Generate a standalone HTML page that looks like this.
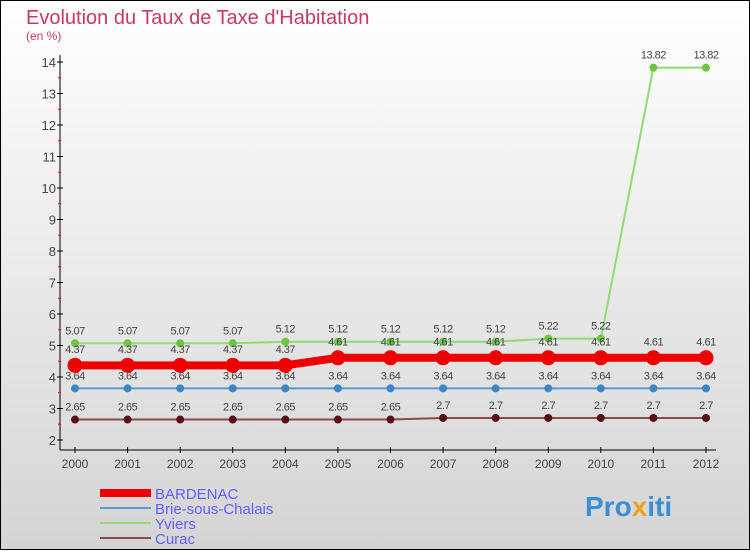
<!DOCTYPE html>
<html><head><meta charset="utf-8"><style>
html,body{margin:0;padding:0}
body{width:750px;height:550px;overflow:hidden;font-family:"Liberation Sans",sans-serif}
</style></head><body>
<svg id="c" width="750" height="550" xmlns="http://www.w3.org/2000/svg">
<defs><linearGradient id="bg" x1="0" y1="0" x2="0" y2="1"><stop offset="0" stop-color="#ffffff"/><stop offset="1" stop-color="#d4d4d4"/></linearGradient></defs>
<rect x="0.5" y="0.5" width="749" height="549" fill="url(#bg)" stroke="#000"/>
<text x="26" y="24" font-size="20" fill="#c8386a">Evolution du Taux de Taxe d'Habitation</text>
<text x="26" y="40" font-size="12" fill="#c8386a">(en %)</text>
<g id="axes"></g><g id="series"></g><g id="legend"></g>
<text x="585" y="516" font-size="28" font-weight="bold" fill="#3a8fd8">Pro<tspan fill="#f0a020">x</tspan>iti</text>
</svg>
<script>
const years=[2000,2001,2002,2003,2004,2005,2006,2007,2008,2009,2010,2011,2012];
const yTicks=[2,3,4,5,6,7,8,9,10,11,12,13,14];
const bardenac=[4.37,4.37,4.37,4.37,4.37,4.61,4.61,4.61,4.61,4.61,4.61,4.61,4.61];
const brie=[3.64,3.64,3.64,3.64,3.64,3.64,3.64,3.64,3.64,3.64,3.64,3.64,3.64];
const yviers=[5.07,5.07,5.07,5.07,5.12,5.12,5.12,5.12,5.12,5.22,5.22,13.82,13.82];
const curac=[2.65,2.65,2.65,2.65,2.65,2.65,2.65,2.7,2.7,2.7,2.7,2.7,2.7];
const NS='http://www.w3.org/2000/svg';
const X=i=>75+i*(706-75)/(years.length-1);
const Y=v=>440-(v-2)*31.5;
function mk(tag,attrs,parent,txt){const e=document.createElementNS(NS,tag);for(const k in attrs)e.setAttribute(k,attrs[k]);if(txt!==undefined)e.textContent=txt;parent.appendChild(e);return e;}
const ax=document.getElementById('axes');
let e=mk('line',{x1:60,y1:55,x2:60,y2:450,stroke:'#000','stroke-width':1},ax);


e=mk('line',{x1:60,y1:450,x2:716,y2:450,stroke:'#000','stroke-width':1},ax);


yTicks.forEach(t=>{
 mk('line',{x1:57,y1:Y(t),x2:63,y2:Y(t),stroke:'#000'},ax);
 if(t<14)mk('line',{x1:58,y1:Y(t+0.5),x2:61,y2:Y(t+0.5),stroke:'#f00'},ax);
 const l=mk('text',{x:56,y:Y(t)+5,'font-size':13,fill:'#444','text-anchor':'end'},ax,t);
 
 
});
years.forEach((y,i)=>{
 mk('line',{x1:X(i),y1:447,x2:X(i),y2:453,stroke:'#000'},ax);
 const l=mk('text',{x:X(i),y:468,'font-size':12,fill:'#444','text-anchor':'middle'},ax,y);
 
 
});
const sg=document.getElementById('series');
const defs=[
 {name:'curac',data:curac,line:'#8a4a4a',dot:'#5a1010',w:2,r:4},
 {name:'brie',data:brie,line:'#5a9ad0',dot:'#3a86c6',w:2,r:4},
 {name:'yviers',data:yviers,line:'#90dc70',dot:'#6cc440',w:2,r:4},
 {name:'bardenac',data:bardenac,line:'#ee0000',dot:'#ee0000',w:8,r:7.5}
];
defs.forEach(s=>{
 const g=mk('g',{},sg);
 
 
 const p=mk('polyline',{points:s.data.map((v,i)=>X(i)+','+Y(v)).join(' '),fill:'none',stroke:s.line,'stroke-width':s.w},g);
 
 
 s.data.forEach((v,i)=>{
  const c=mk('circle',{cx:X(i),cy:Y(v),r:s.r,fill:s.dot},g);
  
  
  const t=mk('text',{x:X(i),y:Y(v)-s.r-5,'font-size':11,fill:'#444','text-anchor':'middle','letter-spacing':'-0.5'},g,String(v));
  
  
 });
});
const lg=document.getElementById('legend');
[['BARDENAC','#ee0000',8],['Brie-sous-Chalais','#5a9ad0',2],['Yviers','#90dc70',2],['Curac','#8a4a4a',2]].forEach((d,i)=>{
 const y=493+i*15;
 const g=mk('g',{},lg);
 
 
 mk('line',{x1:100,y1:y,x2:151,y2:y,stroke:d[1],'stroke-width':d[2]},g);
 mk('text',{x:155,y:y+6,'font-size':15,fill:'#6060ff'},g,d[0]);
});
</script>
</body></html>
